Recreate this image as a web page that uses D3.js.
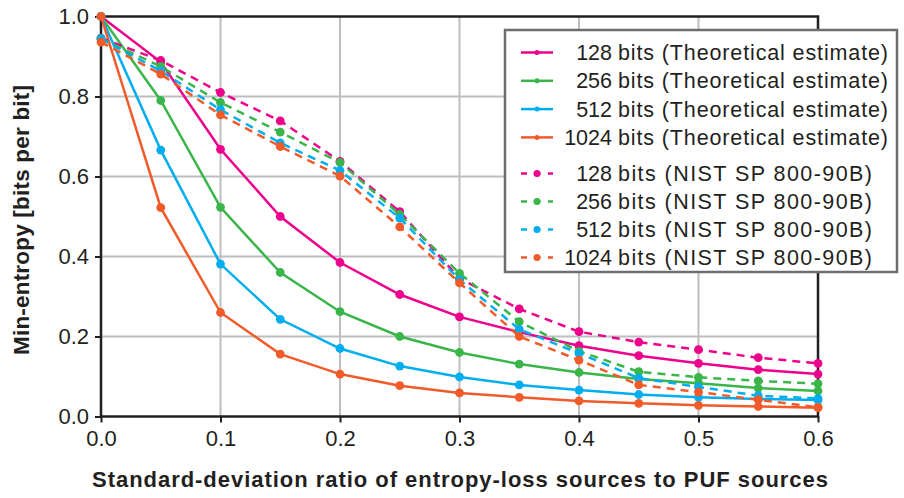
<!DOCTYPE html>
<html>
<head>
<meta charset="UTF-8">
<title>Min-entropy vs standard-deviation ratio</title>
<script src="https://cdn.jsdelivr.net/npm/d3@7"></script>
<style>
  body { margin: 0; background: #fff; }
  text { font-family: "Liberation Sans", Arial, sans-serif; fill: #231f20; }
</style>
</head>
<body>
<script>
// x values (standard-deviation ratio)
var ratios = [0, 0.05, 0.1, 0.15, 0.2, 0.25, 0.3, 0.35, 0.4, 0.45, 0.5, 0.55, 0.6];

// theoretical estimate
var theo128  = [1.0, 0.886, 0.668, 0.500, 0.385, 0.305, 0.249, 0.211, 0.177, 0.152, 0.133, 0.117, 0.106];
var theo256  = [1.0, 0.790, 0.523, 0.360, 0.262, 0.200, 0.160, 0.131, 0.110, 0.094, 0.083, 0.071, 0.064];
var theo512  = [1.0, 0.666, 0.381, 0.243, 0.170, 0.126, 0.099, 0.079, 0.066, 0.055, 0.048, 0.044, 0.041];
var theo1024 = [1.0, 0.522, 0.260, 0.156, 0.106, 0.077, 0.059, 0.048, 0.039, 0.033, 0.028, 0.025, 0.022];

// NIST SP 800-90B estimate
var nist128  = [0.946, 0.890, 0.810, 0.739, 0.638, 0.512, 0.345, 0.269, 0.212, 0.186, 0.167, 0.147, 0.133];
var nist256  = [0.945, 0.875, 0.785, 0.711, 0.635, 0.505, 0.358, 0.237, 0.163, 0.112, 0.098, 0.089, 0.082];
var nist512  = [0.944, 0.864, 0.767, 0.684, 0.615, 0.496, 0.342, 0.218, 0.158, 0.096, 0.074, 0.052, 0.045];
var nist1024 = [0.936, 0.856, 0.754, 0.675, 0.601, 0.474, 0.334, 0.200, 0.141, 0.079, 0.061, 0.042, 0.023];

var bitLabels = ["128", "256", "512", "1024"];
var colors = ["#ec008c", "#39b54a", "#00aeef", "#f15a29"];
var xTicks = [0, 0.1, 0.2, 0.3, 0.4, 0.5, 0.6];
var yTicks = [0, 0.2, 0.4, 0.6, 0.8, 1.0];

var series = [
  {bits: 0, dashed: false, values: theo128},
  {bits: 1, dashed: false, values: theo256},
  {bits: 2, dashed: false, values: theo512},
  {bits: 3, dashed: false, values: theo1024},
  {bits: 0, dashed: true, values: nist128},
  {bits: 1, dashed: true, values: nist256},
  {bits: 2, dashed: true, values: nist512},
  {bits: 3, dashed: true, values: nist1024}
];

var w = 904, h = 498;
// plot area edges (note: "top" is taken by window.top)
var pLeft = 101, pRight = 818, pTop = 16.5, pBottom = 416.5;

var svg = d3.select("body").append("svg")
  .attr("width", w)
  .attr("height", h);

var x = d3.scaleLinear().domain([0, 0.6]).range([pLeft, pRight]);
var y = d3.scaleLinear().domain([0, 1]).range([pBottom, pTop]);

// grid
svg.append("g").selectAll("line")
  .data(xTicks.slice(1, -1))
  .enter().append("line")
  .attr("x1", function(d) { return x(d); })
  .attr("x2", function(d) { return x(d); })
  .attr("y1", pTop).attr("y2", pBottom)
  .attr("stroke", "#bcbec0").attr("stroke-width", 2);

svg.append("g").selectAll("line")
  .data(yTicks.slice(1, -1))
  .enter().append("line")
  .attr("x1", pLeft).attr("x2", pRight)
  .attr("y1", function(d) { return y(d); })
  .attr("y2", function(d) { return y(d); })
  .attr("stroke", "#bcbec0").attr("stroke-width", 2);

// axes
var xAxis = d3.axisBottom(x).tickValues(xTicks).tickFormat(d3.format(".1f"))
  .tickSizeInner(6).tickSizeOuter(0).tickPadding(8);
var yAxis = d3.axisLeft(y).tickValues(yTicks).tickFormat(d3.format(".1f"))
  .tickSizeInner(6).tickSizeOuter(0).tickPadding(6);

var gx = svg.append("g")
  .attr("transform", "translate(0," + pBottom + ")")
  .call(xAxis);
var gy = svg.append("g")
  .attr("transform", "translate(" + pLeft + ",0)")
  .call(yAxis);

[gx, gy].forEach(function(g) {
  g.select(".domain").remove();
  g.selectAll(".tick line").attr("stroke", "#231f20").attr("stroke-width", 2);
  g.selectAll(".tick text")
    .attr("font-size", 22)
    .attr("font-family", "Liberation Sans, Arial, sans-serif")
    .attr("fill", "#231f20");
});

// frame
svg.append("rect")
  .attr("x", pLeft).attr("y", pTop)
  .attr("width", pRight - pLeft).attr("height", pBottom - pTop)
  .attr("fill", "none")
  .attr("stroke", "#231f20").attr("stroke-width", 2.5);

// lines
var line = d3.line()
  .x(function(d, i) { return x(ratios[i]); })
  .y(function(d) { return y(d); });

series.forEach(function(s) {
  var g = svg.append("g");
  g.append("path")
    .attr("d", line(s.values))
    .attr("fill", "none")
    .attr("stroke", colors[s.bits])
    .attr("stroke-width", 2.5)
    .attr("stroke-dasharray", s.dashed ? "8,6" : null);
  g.selectAll("circle")
    .data(s.values)
    .enter().append("circle")
    .attr("cx", function(d, i) { return x(ratios[i]); })
    .attr("cy", function(d) { return y(d); })
    .attr("r", 4.4)
    .attr("fill", colors[s.bits]);
});

// legend
var legend = svg.append("g");
legend.append("rect")
  .attr("x", 505).attr("y", 30)
  .attr("width", 392).attr("height", 242)
  .attr("fill", "#fff")
  .attr("stroke", "#6d6e71").attr("stroke-width", 2.5);

series.forEach(function(s, k) {
  var ly = s.dashed ? 173.5 + (k - 4) * 28 : 52.5 + k * 28.3;
  var c = colors[s.bits];
  legend.append("line")
    .attr("x1", 521).attr("x2", 553).attr("y1", ly).attr("y2", ly)
    .attr("stroke", c).attr("stroke-width", 2.5)
    .attr("stroke-dasharray", s.dashed ? "6,7.5" : null);
  legend.append("circle")
    .attr("cx", 537).attr("cy", ly).attr("r", s.dashed ? 3.5 : 2.5)
    .attr("fill", c);
  legend.append("text")
    .attr("x", 612).attr("y", ly + 7.5)
    .attr("text-anchor", "end")
    .attr("font-size", 21.5)
    .text(bitLabels[s.bits]);
  legend.append("text")
    .attr("x", 618).attr("y", ly + 7.5)
    .attr("font-size", 21.5)
    .attr("textLength", s.dashed ? 254 : 270)
    .attr("lengthAdjust", "spacing")
    .text(s.dashed ? "bits (NIST SP 800-90B)" : "bits (Theoretical estimate)");
});

// axis titles
svg.append("text")
  .attr("x", 92).attr("y", 487)
  .attr("font-size", 22)
  .attr("font-weight", "bold")
  .attr("textLength", 736)
  .attr("lengthAdjust", "spacing")
  .text("Standard-deviation ratio of entropy-loss sources to PUF sources");

svg.append("text")
  .attr("transform", "translate(28.5,355) rotate(-90)")
  .attr("font-size", 22.5)
  .attr("font-weight", "bold")
  .attr("textLength", 270)
  .attr("lengthAdjust", "spacing")
  .text("Min-entropy [bits per bit]");
</script>
</body>
</html>
